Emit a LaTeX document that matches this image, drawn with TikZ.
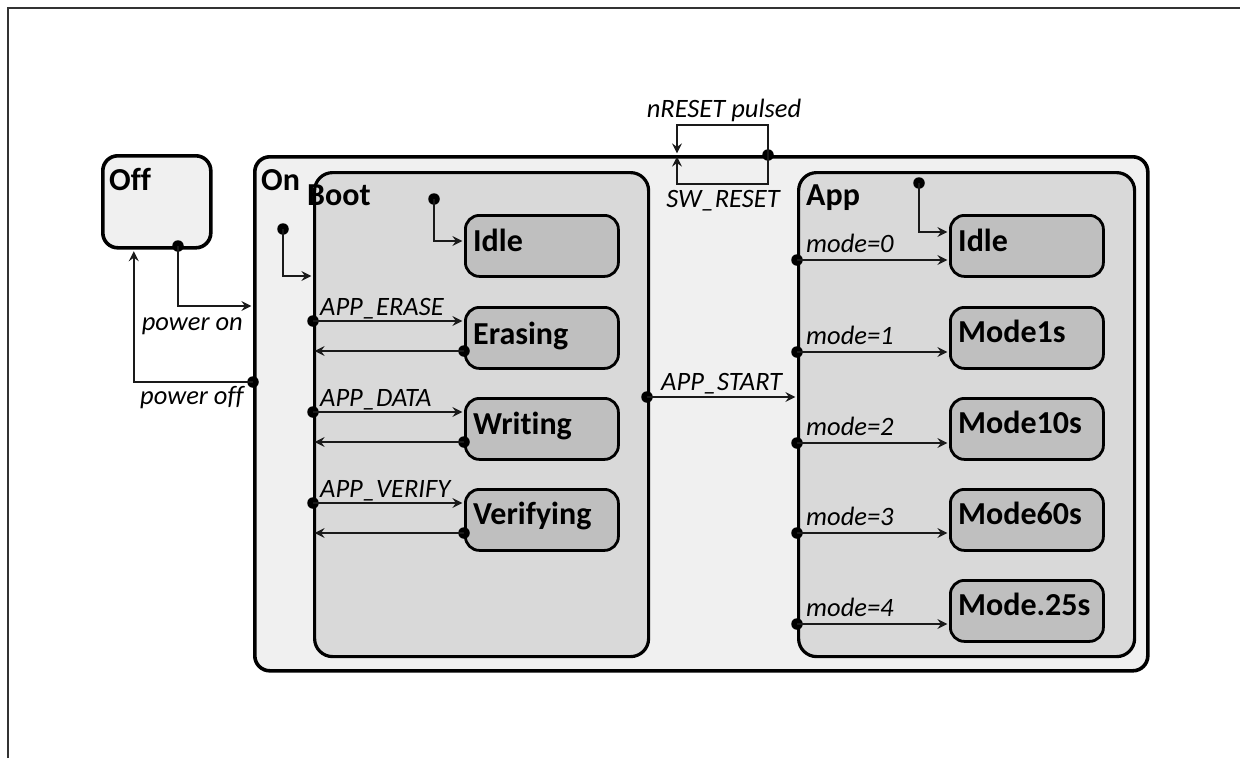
\documentclass[tikz,border=0pt]{standalone}
\usepackage{fontspec}
\setmainfont[Ligatures=NoCommon]{Carlito}
\usetikzlibrary{arrows.meta}
\definecolor{offfill}{HTML}{F0F0F0}
\definecolor{regfill}{HTML}{D9D9D9}
\definecolor{subfill}{HTML}{BFBFBF}
\definecolor{ink}{HTML}{1A1A1A}
\begin{document}
\begin{tikzpicture}[x=1pt,y=-1pt,
  outerbox/.style={draw=black, line width=3.6pt, rounded corners=15pt, fill=offfill, inner sep=0pt, anchor=north west},
  regionbox/.style={draw=black, line width=3.2pt, rounded corners=18pt, fill=regfill, inner sep=0pt, anchor=north west},
  subbox/.style={draw=black, line width=2.8pt, rounded corners=14pt, fill=subfill, inner sep=0pt, anchor=north west, minimum width=153pt, minimum height=61pt},
  ttl/.style={font=\fontsize{32}{38}\selectfont\bfseries, anchor=base west, inner sep=0pt},
  lbl/.style={font=\fontsize{26.5}{31}\selectfont\itshape, inner sep=0pt},
  tr/.style={draw=ink, line width=1.4pt, shorten >=1.6pt, -{Stealth[length=10pt,width=10pt,inset=3.5pt]}},
  dotnode/.style={circle, fill=black, inner sep=0pt, minimum size=11.5pt},
  framestyle/.style={draw=black!80, line width=1.4pt}
]
\useasboundingbox (0,0) rectangle (1240,758);
% frame
\coordinate (fa) at (8,758);
\coordinate (fb) at (8,8);
\coordinate (fc) at (1240,8);
\draw[framestyle] (fa) -- (fb) -- (fc);

% top level states
\node[outerbox, minimum width=108pt, minimum height=92pt] (off) at (101,154) {};
\node[ttl] (offt) at (109,190) {Off};
\node[outerbox, minimum width=893pt, minimum height=514pt] (on) at (253,155) {};
\node[ttl] (ont) at (261,190) {On};

% regions
\node[regionbox, minimum width=334pt, minimum height=484pt] (boot) at (313,171) {};
\node[ttl] (boott) at (307,205) {Boot};
\node[regionbox, minimum width=336pt, minimum height=484pt] (app) at (797,171) {};
\node[ttl] (appt) at (806,205) {App};

% boot substates
\node[subbox] (bIdle) at (464,214) {};
\node[ttl] (bIdlet) at (473,251) {Idle};
\node[subbox] (bErase) at (464,306) {};
\node[ttl] (bEraset) at (473,344) {Erasing};
\node[subbox] (bWrite) at (464,397) {};
\node[ttl] (bWritet) at (473,434) {Writing};
\node[subbox] (bVerify) at (464,488) {};
\node[ttl] (bVerifyt) at (473,524) {Verifying};

% app substates
\node[subbox] (aIdle) at (949,214) {};
\node[ttl] (aIdlet) at (958,251) {Idle};
\node[subbox] (mA) at (949,306) {};
\node[ttl] (mAt) at (958,342) {Mode1s};
\node[subbox] (mB) at (949,397) {};
\node[ttl] (mBt) at (958,433) {Mode10s};
\node[subbox] (mC) at (949,488) {};
\node[ttl] (mCt) at (958,524) {Mode60s};
\node[subbox] (mD) at (949,579) {};
\node[ttl] (mDt) at (958,615) {Mode.25s};

% dots
\node[dotnode] (dOff) at (178,246) {};
\node[dotnode] (dOn) at (253,382) {};
\node[dotnode] (iOn) at (283,229) {};
\node[dotnode] (iBoot) at (434,199) {};
\node[dotnode] (sErase) at (313,321) {};
\node[dotnode] (rErase) at (464,351) {};
\node[dotnode] (sWrite) at (313,412) {};
\node[dotnode] (rWrite) at (464,442) {};
\node[dotnode] (sVerify) at (313,503) {};
\node[dotnode] (rVerify) at (464,533) {};
\node[dotnode] (dStart) at (647,397) {};
\node[dotnode] (iApp) at (919,183) {};
\node[dotnode] (s0) at (797,260) {};
\node[dotnode] (s1) at (797,352) {};
\node[dotnode] (s2) at (797,443) {};
\node[dotnode] (s3) at (797,533) {};
\node[dotnode] (s4) at (797,624) {};
\node[dotnode] (dRst) at (768,155) {};

% power on / off
\draw[tr] (dOff.center) |- (on.west |- 0,306);
\node[lbl, anchor=base east] (lpon) at (243,330) {power on};
\draw[tr] (dOn.center) -| ([xshift=-23pt]off.south);
\node[lbl, anchor=base east] (lpoff) at (244,404) {power off};

% initial transitions
\draw[tr] (iOn.center) |- (boot.west |- 0,276);
\draw[tr] (iBoot.center) |- (bIdle.west |- 0,241);
\draw[tr] (iApp.center) |- (aIdle.west |- 0,232);

% boot transitions
\draw[tr] (sErase.center) -- (bErase.west |- sErase);
\node[lbl, anchor=base west] (lerase) at (320,315) {APP\_ERASE};
\draw[tr] (rErase.center) -- (boot.west |- rErase);
\draw[tr] (sWrite.center) -- (bWrite.west |- sWrite);
\node[lbl, anchor=base west] (lwrite) at (320,406) {APP\_DATA};
\draw[tr] (rWrite.center) -- (boot.west |- rWrite);
\draw[tr] (sVerify.center) -- (bVerify.west |- sVerify);
\node[lbl, anchor=base west] (lverify) at (320,497) {APP\_VERIFY};
\draw[tr] (rVerify.center) -- (boot.west |- rVerify);

% app start
\draw[tr] (dStart.center) -- (app.west |- dStart);
\node[lbl, anchor=base west] (lstart) at (661,390) {APP\_START};

% mode transitions
\draw[tr] (s0.center) -- (aIdle.west |- s0);
\node[lbl, anchor=base west] (l0) at (806,252) {mode=0};
\draw[tr] (s1.center) -- (mA.west |- s1);
\node[lbl, anchor=base west] (l1) at (806,344) {mode=1};
\draw[tr] (s2.center) -- (mB.west |- s2);
\node[lbl, anchor=base west] (l2) at (806,435) {mode=2};
\draw[tr] (s3.center) -- (mC.west |- s3);
\node[lbl, anchor=base west] (l3) at (806,525) {mode=3};
\draw[tr] (s4.center) -- (mD.west |- s4);
\node[lbl, anchor=base west] (l4) at (806,616) {mode=4};

% reset loops
\coordinate (rUp) at (768,125);
\coordinate (rDown) at (768,184);
\draw[tr] (dRst.center) -- (rUp) -| (on.north -| 677,0);
\draw[tr] (dRst.center) -- (rDown) -| (on.north -| 677,0);
\node[lbl, anchor=base] (lnreset) at (724,117) {nRESET pulsed};
\node[lbl, anchor=base] (lswreset) at (723,207) {SW\_RESET};
\end{tikzpicture}
\end{document}
